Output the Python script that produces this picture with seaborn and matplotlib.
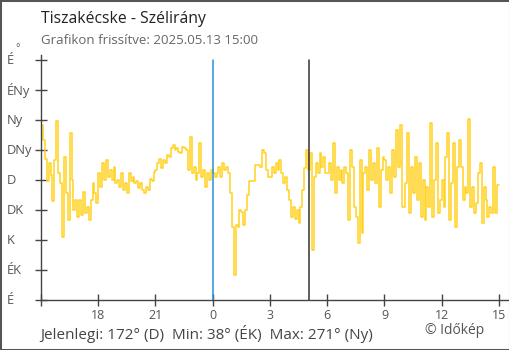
import numpy as np
import pandas as pd
import matplotlib
matplotlib.use("Agg")
import matplotlib.pyplot as plt
import matplotlib.transforms as mtransforms
import seaborn as sns

# wind direction (degrees), one value every 6 minutes from 15:00 (previous day)
h00 = [262, 240, 212, 178, 205, 188, 148, 210, 268, 190]
h01 = [175, 95, 215, 160, 120, 250, 180, 135, 150, 125]
h02 = [150, 128, 162, 130, 140, 120, 150, 175, 160, 145]
h03 = [190, 170, 205, 180, 210, 185, 195, 180, 200, 175]
h04 = [180, 170, 190, 165, 175, 160, 190, 178, 185, 175]
h05 = [178, 168, 175, 165, 160, 170, 165, 182, 178, 192]
h06 = [195, 205, 212, 198, 210, 205, 218, 215, 228, 232]
h07 = [225, 228, 222, 220, 230, 228, 225, 195, 245, 190]
h08 = [200, 180, 190, 235, 185, 195, 170, 190, 180, 195]
h09 = [190, 185, 190, 200, 185, 205, 195, 200, 190, 160]
h10 = [110, 38, 112, 110, 135, 132, 112, 135, 157, 179]
h11 = [179, 179, 202, 202, 202, 200, 225, 220, 195, 185]
h12 = [185, 200, 190, 205, 195, 210, 190, 175, 185, 165]
h13 = [150, 125, 140, 122, 135, 115, 140, 165, 198, 225]
h14 = [195, 220, 75, 185, 205, 190, 220, 200, 215, 190]
h15 = [190, 205, 180, 235, 160, 200, 180, 195, 175, 200]
h16 = [190, 120, 225, 200, 140, 125, 85, 210, 100, 190]
h17 = [200, 165, 225, 180, 205, 175, 228, 140, 195, 215]
h18 = [210, 180, 200, 160, 225, 185, 255, 200, 262, 140]
h19 = [140, 175, 250, 130, 200, 160, 215, 150, 205, 125]
h20 = [180, 120, 170, 140, 265, 125, 180, 235, 130, 150]
h21 = [180, 140, 215, 250, 120, 175, 235, 110, 200, 240]
h22 = [200, 150, 170, 160, 271, 140, 170, 130, 145, 190]
h23 = [205, 115, 170, 150, 125, 140, 130, 200, 130, 172]
last = [172]

direction = (h00 + h01 + h02 + h03 + h04 + h05 + h06 + h07 + h08 + h09 + h10 + h11 +
             h12 + h13 + h14 + h15 + h16 + h17 + h18 + h19 + h20 + h21 + h22 + h23 + last)
hours = [i / 10 for i in range(len(direction))]  # hours since 15:00

ytick_vals = [0, 45, 90, 135, 180, 225, 270, 315, 360]
ytick_labels = ["É", "ÉK", "K", "DK", "D", "DNy", "Ny", "ÉNy", "É"]
xtick_vals = [3, 6, 9, 12, 15, 18, 21, 24]
xtick_labels = ["18", "21", "0", "3", "6", "9", "12", "15"]
midnight = 9
now_mark = 14.07

title = "Tiszakécske - Szélirány"
subtitle = "Grafikon frissítve: 2025.05.13 15:00"
summary = "Jelenlegi: 172° (D)  Min: 38° (ÉK)  Max: 271° (Ny)"
credit = "© Időkép"

sns.set_style("white")
plt.rcParams["font.family"] = ["Open Sans", "DejaVu Sans"]

W, H = 510, 350
fig = plt.figure(figsize=(W / 100, H / 100), dpi=100)
ax = fig.add_axes([41 / W, (H - 300) / H, (509 - 41) / W, (300 - 55) / H])

df = pd.DataFrame({"t": hours, "deg": direction})
sns.lineplot(data=df, x="t", y="deg", ax=ax, color="#FFD21F", lw=1.1,
             drawstyle="steps-post", estimator=None, sort=False)

ax.axvline(midnight, color="#2A8FD8", lw=1.1, ymax=360 / 367.5, zorder=3)
ax.axvline(now_mark, color="#333333", lw=1.1, ymax=360 / 367.5, zorder=3)

ax.set_xlim(0, (509 - 41) / 19.08)
ax.set_ylim(0, 367.5)
ax.set_xlabel("")
ax.set_ylabel("")

for s in ["top", "right"]:
    ax.spines[s].set_visible(False)
for s in ["left", "bottom"]:
    ax.spines[s].set_color("#444444")
    ax.spines[s].set_linewidth(1.0)

ax.set_yticks(ytick_vals)
ax.set_yticklabels([])
ax.set_xticks([0] + xtick_vals)
ax.set_xticklabels([""] + xtick_labels)
ax.tick_params(axis="both", direction="inout", length=9, width=1.0, color="#444444",
               left=True, bottom=True)
ax.tick_params(axis="x", labelsize=9, labelcolor="#555555", pad=2)

tr = mtransforms.blended_transform_factory(fig.transFigure, ax.transData)
for v, lab in zip(ytick_vals, ytick_labels):
    ax.text(7 / W, v, lab, transform=tr, ha="left", va="center",
            fontsize=9.3, color="#555555", clip_on=False)
fig.text(15 / W, 1 - 49 / H, "°", fontsize=7.5, color="#555555", ha="left", va="center")

fig.text(41 / W, 1 - 19 / H, title, fontsize=11.3, color="#222222", ha="left", va="center")
fig.text(41 / W, 1 - 40 / H, subtitle, fontsize=9.5, color="#666666", ha="left", va="center")
fig.text(40 / W, 1 - 334 / H, summary, fontsize=11, color="#444444", ha="left", va="center")
fig.text(425 / W, 1 - 331 / H, credit, fontsize=10, color="#555555", ha="left", va="center")

fig.add_artist(plt.Rectangle((0, 0), 1, 1, transform=fig.transFigure, fill=False,
                             edgecolor="#555555", lw=2.2))

fig.savefig("out.png", dpi=100)
